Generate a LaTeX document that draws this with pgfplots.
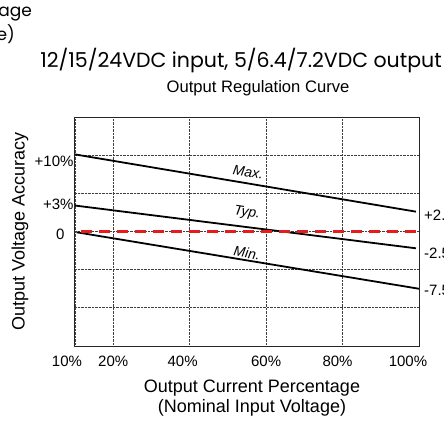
\documentclass[border=0pt]{standalone}
\usepackage{fontspec}
\setmainfont{Liberation Sans}
\newfontfamily\titlefont{Poppins}
\usepackage{pgfplots}
\pgfplotsset{compat=1.18}
\definecolor{dashred}{RGB}{228,28,28}
\begin{document}
\begin{tikzpicture}
\begin{axis}[
  at={(0,0)}, anchor=south west,
  scale only axis, width=344pt, height=229pt,
  xmin=10, xmax=100, ymin=-15, ymax=15,
  axis line style={line width=1pt, black!85},
  xtick={10,20,40,60,80,100},
  xticklabels={{\hbox to 0pt{\hss 10\%\kern16pt\hss}}, 20\%, {\hbox to 0pt{\hss 40\%\kern14pt\hss}}, 60\%, {\hbox to 0pt{\hss 80\%\kern10pt\hss}}, {\hbox to 0pt{\hss 100\%\kern22pt\hss}}},
  xticklabel style={yshift=-6pt},
  ytick={-10,-5,0,5,10}, yticklabels={},
  extra y ticks={9.2,3.5,-0.4},
  extra y tick labels={{+10\%},{+3\%},{0\kern9pt}},
  extra y tick style={grid=none, major tick length=0, yticklabel style={xshift=2pt}},
  grid=major,
  major grid style={densely dotted, black!75, line width=0.7pt},
  major tick length=0,
  tick label style={font=\fontsize{15}{17}\selectfont},
  /pgf/number format/assume math mode=true,
  xlabel={Output Current Percentage\\(Nominal Input Voltage)},
  xlabel style={at={(axis description cs:0.5145,-0.131)}, anchor=north, align=center, font=\fontsize{18}{20}\selectfont},
  ylabel={Output Voltage Accuracy},
  ylabel style={at={(axis description cs:-0.16,0.502)}, anchor=center, font=\fontsize{18}{20}\selectfont},
  clip=false,
]
\addplot[black, line width=1.8pt] coordinates {(10,10.1) (99.2,2.6)};
\addplot[black, line width=1.8pt] coordinates {(10,3.4) (99.2,-2.2)};
\addplot[black, line width=1.8pt] coordinates {(10.4,-0.1) (100,-7.5)};
\addplot[dashred, line width=2.5pt, dash pattern=on 11pt off 7pt] coordinates {(11.6,0) (100,0)};
\node[rotate=-9, font=\itshape\fontsize{14}{16}\selectfont] at (axis cs:55.3,7.8) {Max.};
\node[rotate=-9, font=\itshape\fontsize{14}{16}\selectfont] at (axis cs:55.0,2.4) {Typ.};
\node[rotate=-9, font=\itshape\fontsize{14}{16}\selectfont] at (axis cs:55.0,-2.8) {Min.};
\end{axis}
\node[font=\titlefont\fontsize{20.5}{24}\selectfont] at (166pt,285pt) {12/15/24VDC input, 5/6.4/7.2VDC output};
\node[font=\fontsize{16.6}{19}\selectfont] at (183pt,258pt) {Output Regulation Curve};
\node[anchor=east, inner sep=0pt, font=\titlefont\fontsize{17}{20}\selectfont] at (-43pt,332pt) {age};
\node[anchor=east, inner sep=0pt, font=\titlefont\fontsize{17}{20}\selectfont] at (-60pt,312pt) {e)};
\node[anchor=west, inner sep=0pt, font=\fontsize{15}{17}\selectfont] at (349pt,131pt) {+2.5\%};
\node[anchor=west, inner sep=0pt, font=\fontsize{15}{17}\selectfont] at (349pt,93pt) {-2.5\%};
\node[anchor=west, inner sep=0pt, font=\fontsize{15}{17}\selectfont] at (349pt,56pt) {-7.5\%};
\pgfresetboundingbox
\useasboundingbox (-75pt,-77pt) rectangle (369pt,346pt);
\end{tikzpicture}
\end{document}
